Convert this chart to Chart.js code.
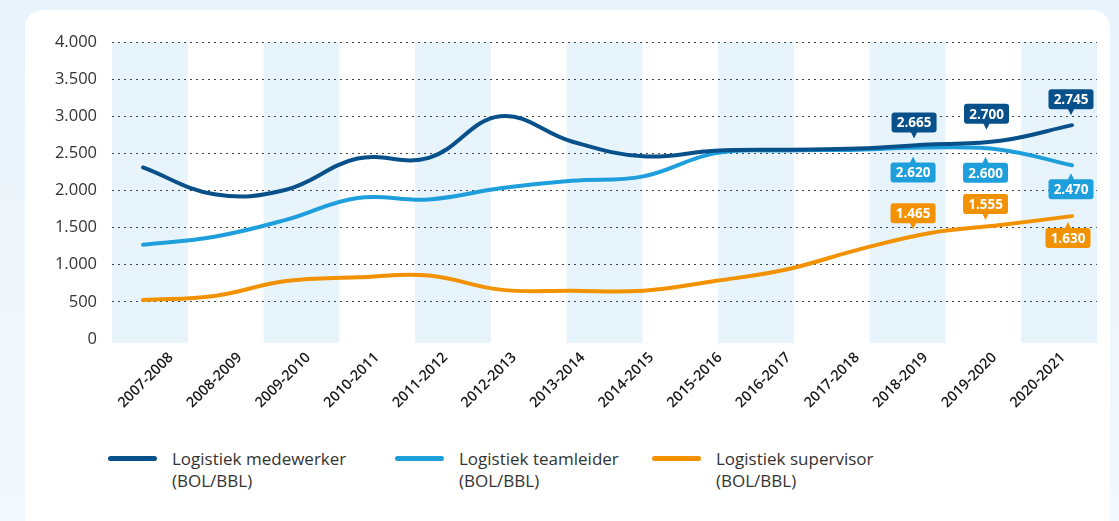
<!DOCTYPE html>
<html>
<head>
<meta charset="utf-8">
<script src="https://cdn.jsdelivr.net/npm/chart.js@4.4.0/dist/chart.umd.min.js"></script>
<style>
html, body { margin: 0; padding: 0; }
body {
    width: 1119px; height: 521px; overflow: hidden; position: relative;
    background: linear-gradient(#e9f3fb, #f4f9fd);
    font-family: "Open Sans", sans-serif;
}
#card { position: absolute; left: 25px; top: 10px; width: 1085px; height: 540px; background: #fff; border-radius: 18px; }
#chart { position: absolute; left: 0; top: 0; }
.lg-swatch { position: absolute; top: 456px; width: 49px; height: 5px; border-radius: 3px; }
.lg-text { position: absolute; top: 448px; font-size: 17px; line-height: 22px; color: #333; white-space: pre; }
</style>
</head>
<body>
<div id="card"></div>
<canvas id="chart" width="1119" height="419"></canvas>
<div id="legend"></div>
<script>
const categories = ['2007-2008', '2008-2009', '2009-2010', '2010-2011', '2011-2012', '2012-2013', '2013-2014',
    '2014-2015', '2015-2016', '2016-2017', '2017-2018', '2018-2019', '2019-2020', '2020-2021'];
const medewerker = [2310, 1950, 2010, 2430, 2440, 3000, 2660, 2460, 2535, 2550, 2565, 2620, 2670, 2880];
const teamleider = [1270, 1378, 1605, 1900, 1880, 2030, 2130, 2190, 2500, 2540, 2550, 2580, 2550, 2340];
const supervisor = [525, 580, 780, 830, 855, 665, 650, 650, 780, 935, 1200, 1425, 1535, 1655];
const yTicks = [0, 500, 1000, 1500, 2000, 2500, 3000, 3500, 4000];

// values written in the tags at the last three years
const tagIndex = [11, 12, 13];
const medewerkerTags = [2665, 2700, 2745];
const teamleiderTags = [2620, 2600, 2470];
const supervisorTags = [1465, 1555, 1630];

const seriesNames = ['Logistiek medewerker\n(BOL/BBL)', 'Logistiek teamleider\n(BOL/BBL)', 'Logistiek supervisor\n(BOL/BBL)'];
const colors = ['#07508a', '#1e9fdb', '#f39200'];

// background stripes on a 13 slot grid
const bandSlots = [0, 2, 4, 6, 8, 10, 12];

function fmt(v) {
    return String(v).replace(/\B(?=(\d{3})+(?!\d))/g, '.');
}
function toPoints(arr) {
    return arr.map((v, i) => ({ x: i, y: v }));
}

const bands = {
    id: 'bands',
    beforeDraw(chart) {
        const { ctx, chartArea } = chart;
        const xb = chart.scales.xb;
        ctx.save();
        ctx.fillStyle = '#e8f4fc';
        bandSlots.forEach(s => {
            const l = xb.getPixelForValue(s);
            const r = xb.getPixelForValue(s + 1);
            ctx.fillRect(l, chartArea.top, r - l, chartArea.bottom - chartArea.top + 4);
        });
        ctx.restore();
    }
};

const tags = {
    id: 'tags',
    afterDatasetsDraw(chart) {
        const ctx = chart.ctx;
        ctx.save();
        chart.data.datasets.forEach((ds, d) => {
            const meta = chart.getDatasetMeta(d);
            ds.tags.forEach((val, k) => {
                const pt = meta.data[tagIndex[k]];
                const off = ds.tagOffsets[k];
                const cx = pt.x + off[0], cy = pt.y + off[1];
                const w = 45, h = 20;
                ctx.fillStyle = ds.borderColor;
                ctx.beginPath();
                ctx.roundRect(cx - w / 2, cy - h / 2, w, h, 3);
                ctx.fill();
                ctx.beginPath();
                if (off[1] < 0) {
                    ctx.moveTo(cx - 3.5, cy + h / 2 - 1);
                    ctx.lineTo(cx + 3.5, cy + h / 2 - 1);
                    ctx.lineTo(cx, cy + h / 2 + 6);
                } else {
                    ctx.moveTo(cx - 3.5, cy - h / 2 + 1);
                    ctx.lineTo(cx + 3.5, cy - h / 2 + 1);
                    ctx.lineTo(cx, cy - h / 2 - 6);
                }
                ctx.fill();
                ctx.fillStyle = '#fff';
                ctx.font = 'bold 13.5px "Open Sans"';
                ctx.textAlign = 'center';
                ctx.textBaseline = 'middle';
                ctx.fillText(fmt(val), cx, cy + 1);
            });
        });
        ctx.restore();
    }
};

const lineStyle = {
    borderWidth: 4,
    pointRadius: 0,
    tension: 0.4,
    fill: false,
    borderCapStyle: 'round',
    xAxisID: 'x',
    yAxisID: 'y'
};

const data = {
    datasets: [
        Object.assign({ label: seriesNames[0], data: toPoints(medewerker), borderColor: colors[0],
            tags: medewerkerTags, tagOffsets: [[-15, -22], [-14, -27], [-1, -26]] }, lineStyle),
        Object.assign({ label: seriesNames[1], data: toPoints(teamleider), borderColor: colors[1],
            tags: teamleiderTags, tagOffsets: [[-16, 25], [-15, 23], [-1, 24]] }, lineStyle),
        Object.assign({ label: seriesNames[2], data: toPoints(supervisor), borderColor: colors[2],
            tags: supervisorTags, tagOffsets: [[-16, -20], [-15, -21], [-4, 22]] }, lineStyle)
    ]
};

const chart = new Chart(document.getElementById('chart'), {
    type: 'line',
    data,
    plugins: [bands, tags],
    options: {
        responsive: false,
        animation: false,
        layout: { padding: { top: 42, right: 22, left: 0, bottom: 0 } },
        plugins: { legend: { display: false }, tooltip: { enabled: false } },
        scales: {
            x: { type: 'linear', display: false, min: -0.434, max: 13.35 },
            xb: { type: 'linear', display: false, min: 0, max: 13 },
            xl: {
                type: 'linear',
                position: 'bottom',
                min: -0.86,
                max: 13.495,
                afterBuildTicks(scale) {
                    scale.ticks = categories.map((c, i) => ({ value: i }));
                },
                afterFit(scale) { scale.height = 80; },
                ticks: {
                    autoSkip: false,
                    minRotation: 45,
                    maxRotation: 45,
                    padding: 2,
                    color: '#1a1a1a',
                    font: { family: 'Open Sans', size: 14.5, weight: '600' },
                    callback: v => categories[v]
                },
                grid: { display: false },
                border: { display: false }
            },
            y: {
                min: 0,
                max: 4000,
                afterBuildTicks(scale) {
                    scale.ticks = yTicks.map(v => ({ value: v }));
                },
                afterFit(scale) { scale.width = 112; },
                ticks: {
                    padding: 15,
                    color: '#333',
                    font: { family: 'Open Sans', size: 16.5 },
                    callback: v => fmt(v)
                },
                grid: {
                    drawTicks: false,
                    lineWidth: 1,
                    color: c => c.tick && c.tick.value === 0 ? 'rgba(0,0,0,0)' : '#444'
                },
                border: { display: false, dash: [2, 4] }
            }
        }
    }
});

// legend below the chart
const legendLeft = [108, 395, 652];
const legend = document.getElementById('legend');
chart.data.datasets.forEach((ds, i) => {
    const sw = document.createElement('div');
    sw.className = 'lg-swatch';
    sw.style.left = legendLeft[i] + 'px';
    sw.style.background = ds.borderColor;
    legend.appendChild(sw);
    const t = document.createElement('div');
    t.className = 'lg-text';
    t.style.left = (legendLeft[i] + 64) + 'px';
    t.textContent = ds.label;
    legend.appendChild(t);
});
</script>
</body>
</html>
